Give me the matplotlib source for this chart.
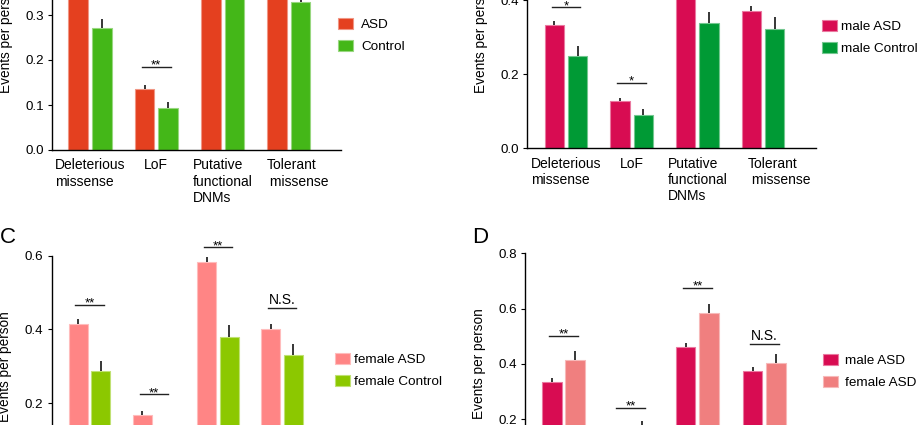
import numpy as np
import matplotlib
matplotlib.use("Agg")
import matplotlib.pyplot as plt
from matplotlib.colors import to_rgb

plt.rcParams['font.family'] = ['Liberation Sans', 'DejaVu Sans']

categories = ["Deleterious\nmissense", "LoF", "Putative\nfunctional\nDNMs", "Tolerant\n missense"]

# panel A: all ASD vs control
a_labels = ["ASD", "Control"]
a_vals = [[0.345, 0.135, 0.48, 0.378], [0.270, 0.093, 0.35, 0.329]]
a_errs = [[0.012, 0.009, 0.013, 0.011], [0.020, 0.014, 0.025, 0.022]]
a_sig = [None, "**", None, None]
a_sig_y = [None, 0.184, None, None]

# panel B: male ASD vs male control
b_labels = ["male ASD", "male Control"]
b_vals = [[0.332, 0.127, 0.463, 0.371], [0.249, 0.089, 0.339, 0.323]]
b_errs = [[0.013, 0.009, 0.013, 0.014], [0.027, 0.018, 0.029, 0.031]]
b_sig = ["*", "*", None, None]
b_sig_y = [0.381, 0.177, None, None]

# panel C: female ASD vs female control
c_labels = ["female ASD", "female Control"]
c_vals = [[0.414, 0.167, 0.582, 0.401], [0.286, 0.100, 0.380, 0.331]]
c_errs = [[0.014, 0.011, 0.014, 0.014], [0.028, 0.020, 0.031, 0.029]]
c_sig = ["**", "**", "**", "N.S."]
c_sig_y = [0.466, 0.224, 0.622, 0.457]

# panel D: male ASD vs female ASD
d_labels = ["male ASD", "female ASD"]
d_vals = [[0.334, 0.128, 0.463, 0.375], [0.416, 0.167, 0.583, 0.403]]
d_errs = [[0.014, 0.009, 0.013, 0.013], [0.031, 0.027, 0.033, 0.032]]
d_sig = ["**", "**", "**", "N.S."]
d_sig_y = [0.502, 0.242, 0.676, 0.472]

W, H = 920, 425
fig = plt.figure(figsize=(W / 100, H / 100), dpi=100)


def px_axes(left, bottom_y, width, height):
    # left / bottom in pixels measured from the top-left of the image
    return fig.add_axes([left / W, (H - bottom_y) / H, width / W, height / H])


def lighten(c, f=0.45):
    r, g, b = to_rgb(c)
    return (r + (1 - r) * f, g + (1 - g) * f, b + (1 - b) * f)


def panel(ax, vals, errs, labels, colors, sig, sig_y, ylim, yticks, xlim,
          leg_xy, textpad, last_shift=0.0):
    x = np.arange(len(categories))
    bw = 0.295
    off = 0.177
    for i, (v, e, lab, col) in enumerate(zip(vals, errs, labels, colors)):
        xs = x + (-off if i == 0 else off)
        ax.bar(xs, v, width=bw, color=col, edgecolor=lighten(col), linewidth=0.8,
               label=lab, zorder=2)
        ax.vlines(xs, v, np.array(v) + np.array(e), color='black', lw=1.1, zorder=3)
    for xi, s, y in zip(x, sig, sig_y):
        if s is None:
            continue
        ax.plot([xi - 0.22, xi + 0.22], [y, y], color='#222222', lw=1.0, clip_on=False)
        if s == "N.S.":
            ax.annotate(s, (xi, y), xytext=(0, 2.9), textcoords='offset points',
                        ha='center', va='baseline', fontsize=10, annotation_clip=False)
        else:
            ax.annotate(s, (xi, y), xytext=(0, -1.2), textcoords='offset points',
                        ha='center', va='baseline', fontsize=9.5, annotation_clip=False)
    ax.set_xlim(*xlim)
    ax.set_ylim(*ylim)
    ax.set_yticks(yticks)
    ax.set_yticklabels(["%.1f" % t for t in yticks], fontsize=9.6)
    # the last label sits a little right of its bar pair in the original
    tick_x = x.astype(float)
    tick_x[-1] += last_shift
    ax.set_xticks(tick_x)
    ax.set_xticklabels(categories, fontsize=10, multialignment='left', va='top',
                       linespacing=1.2)
    ax.tick_params(axis='x', length=0, pad=6)
    ax.tick_params(axis='y', length=3, width=0.8, pad=3)
    for s in ['top', 'right']:
        ax.spines[s].set_visible(False)
    ax.spines['left'].set_linewidth(1.0)
    ax.spines['bottom'].set_linewidth(1.0)
    ax.set_ylabel("Events per person", fontsize=9.8)
    ax.yaxis.set_label_coords(-0.136, 0.5)
    ax.legend(loc='upper left', bbox_to_anchor=(leg_xy[0] / W, 1 - leg_xy[1] / H),
              bbox_transform=fig.transFigure, frameon=False, fontsize=9.7,
              handlelength=1.13, handleheight=0.9, handletextpad=textpad,
              labelspacing=0.68, borderpad=0, borderaxespad=0)


axA = px_axes(52, 150, 289, 225)
panel(axA, a_vals, a_errs, a_labels, ['#E4401F', '#44B718'], a_sig, a_sig_y,
      (0, 0.5), [0.0, 0.1, 0.2, 0.3, 0.4, 0.5], (-0.573, 3.786), (338, 17.5), 0.6,
      last_shift=0.13)

axB = px_axes(527, 148.3, 289, 222)
panel(axB, b_vals, b_errs, b_labels, ['#D80C52', '#009A35'], b_sig, b_sig_y,
      (0, 0.6), [0.0, 0.2, 0.4, 0.6], (-0.594, 3.805), (822, 19.5), 0.3,
      last_shift=0.24)

axC = px_axes(51.7, 477, 289, 221.4)
panel(axC, c_vals, c_errs, c_labels, ['#FF8585', '#8CC800'], c_sig, c_sig_y,
      (0, 0.6), [0.0, 0.2, 0.4, 0.6], (-0.589, 3.913), (335, 352.5), 0.3)

axD = px_axes(525, 474.7, 289, 221.4)
panel(axD, d_vals, d_errs, d_labels, ['#D80C52', '#F07F7F'], d_sig, d_sig_y,
      (0, 0.8), [0.0, 0.2, 0.4, 0.6, 0.8], (-0.575, 3.74), (823, 353.5), 0.53)

fig.text(0 / W, 1 - 243 / H, "C", fontsize=16, ha='left', va='baseline')
fig.text(472 / W, 1 - 243 / H, "D", fontsize=16, ha='left', va='baseline')

fig.savefig("out.png", dpi=100)
